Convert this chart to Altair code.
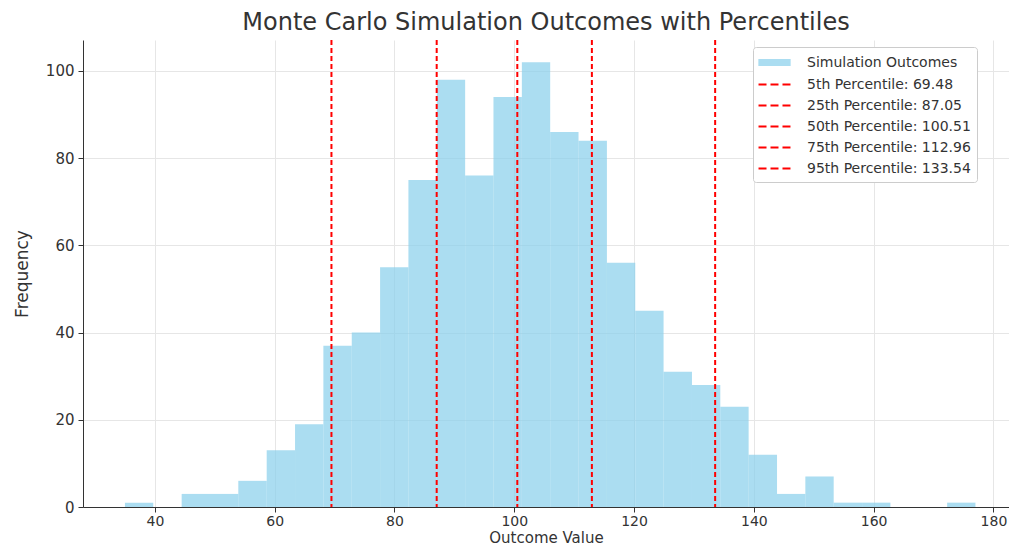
import altair as alt
import pandas as pd

# Histogram bins (edges and counts)
bin_edges = [35.0, 39.73, 44.47, 49.2, 53.93, 58.67, 63.4, 68.13, 72.87, 77.6,
             82.33, 87.07, 91.8, 96.53, 101.27, 106.0, 110.73, 115.47, 120.2,
             124.93, 129.67, 134.4, 139.13, 143.87, 148.6, 153.33, 158.07,
             162.8, 167.53, 172.27, 177.0]
bin_counts = [1, 0, 3, 3, 6, 13, 19, 37, 40, 55, 75, 98, 76, 94, 102, 86, 84,
              56, 45, 31, 28, 23, 12, 3, 7, 1, 1, 0, 0, 1]

pct_names = ["5th", "25th", "50th", "75th", "95th"]
pct_values = [69.48, 87.05, 100.51, 112.96, 133.54]

x_ticks = [40, 60, 80, 100, 120, 140, 160, 180]
y_ticks = [0, 20, 40, 60, 80, 100]

bins = pd.DataFrame({"start": bin_edges[:-1], "end": bin_edges[1:], "count": bin_counts})
pct_labels = [f"{n} Percentile: {v:.2f}" for n, v in zip(pct_names, pct_values)]
pcts = pd.DataFrame({"value": pct_values, "label": pct_labels})
legend_labels = ["Simulation Outcomes"] + pct_labels
legend_df = pd.DataFrame({"series": legend_labels})

FONT = "DejaVu Sans"
BAR = "#87CEEB"
BAR_BLEND = "#ABDDF1"
TXT = "#333333"

x_scale = alt.Scale(domain=[28, 182.6], nice=False, zero=False)
y_scale = alt.Scale(domain=[0, 107.1], nice=False)

bars = alt.Chart(bins).mark_rect(color=BAR, opacity=0.7).encode(
    x=alt.X("start:Q", scale=x_scale,
            axis=alt.Axis(values=x_ticks, title="Outcome Value", labelFlush=False,
                          labelFontSize=14, labelPadding=2, titlePadding=2,
                          titleFontSize=15)),
    x2="end:Q",
    y=alt.Y("count:Q", scale=y_scale,
            axis=alt.Axis(values=y_ticks, title="Frequency", labelPadding=4,
                          titlePadding=14, titleFontSize=17)),
    y2=alt.datum(0),
)

rules = alt.Chart(pcts).mark_rule(color="red", strokeDash=[5, 3], strokeWidth=2).encode(
    x=alt.X("value:Q", scale=x_scale)
)

rect_path = "M-1.9,-0.42H1.9V0.42H-1.9Z"
dash_path = "M-1.88,0H-0.94M-0.47,0H0.47M0.94,0H1.88"

leg_common = dict(
    title=None, orient="none", legendX=670, legendY=7,
    symbolSize=289, symbolStrokeWidth=2, symbolOpacity=1,
    symbolFillColor="transparent", symbolStrokeColor="transparent",
    symbolOffset=6,
    labelFont=FONT, labelFontSize=14, labelColor=TXT, labelLimit=300, labelOffset=23,
    padding=6, rowPadding=4, strokeColor="#cccccc", fillColor="#ffffff",
    cornerRadius=3,
)

legend_layer = alt.Chart(legend_df).mark_point(filled=True, opacity=0).encode(
    fill=alt.Fill("series:N",
                  scale=alt.Scale(domain=legend_labels, range=[BAR_BLEND] + ["transparent"] * 5),
                  legend=alt.Legend(**leg_common)),
    stroke=alt.Stroke("series:N",
                      scale=alt.Scale(domain=legend_labels, range=["transparent"] + ["red"] * 5),
                      legend=alt.Legend(**leg_common)),
    shape=alt.Shape("series:N",
                    scale=alt.Scale(domain=legend_labels, range=[rect_path] + [dash_path] * 5),
                    legend=alt.Legend(**leg_common)),
)

chart = alt.layer(bars, rules, legend_layer).properties(
    width=926, height=467,
    padding={"left": 83, "top": 40, "right": 0, "bottom": 40},
    autosize="none",
    title=alt.TitleParams("Monte Carlo Simulation Outcomes with Percentiles",
                          font=FONT, fontSize=24, fontWeight="normal", color=TXT,
                          anchor="middle", frame="group", offset=4),
).configure_view(strokeWidth=0).configure_axis(
    labelFont=FONT, labelFontSize=15, labelColor=TXT,
    titleFont=FONT, titleFontSize=16, titleColor=TXT, titleFontWeight="normal",
    domainColor=TXT, tickColor=TXT, tickSize=5,
    gridColor="#e6e6e6", gridWidth=1,
)

chart.save("out.html", embed_options={"renderer": "svg", "actions": False})
